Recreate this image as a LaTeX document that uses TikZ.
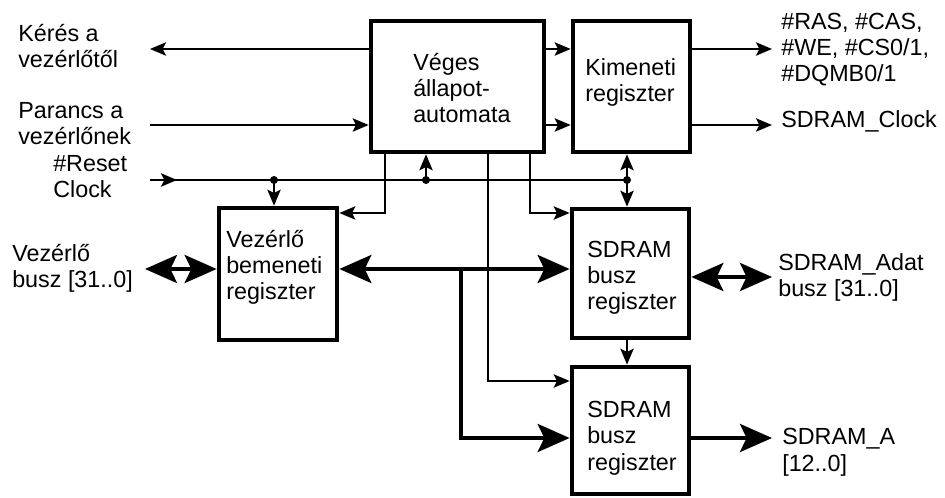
\documentclass[tikz,border=0pt]{standalone}
\usepackage{fontspec}
\setmainfont{Liberation Sans}
\usetikzlibrary{arrows.meta}

\begin{document}
\begin{tikzpicture}[x=0.75pt,y=-0.75pt,
  blk/.style={draw, line width=3.5pt, inner sep=0pt, rectangle},
  txt/.style={font=\fontsize{17.5}{19.8}\selectfont, inner sep=0pt, align=left, anchor=base west},
  wire/.style={line width=1.5pt},
  warrow/.style={wire, -{Stealth[length=12pt,width=10pt,inset=2.5pt]}},
  bus/.style={line width=3pt},
  barrow/.style={bus, -{Stealth[length=24pt,width=21pt,inset=5pt]}},
  dbarrow/.style={bus, {Stealth[length=24pt,width=21pt,inset=5pt]}-{Stealth[length=24pt,width=21pt,inset=5pt]}},
  dot/.style={circle, fill, inner sep=0pt, minimum size=6pt}]
\useasboundingbox (0,0) rectangle (945,498);

% functional blocks
\node[blk, minimum width=129.75pt, minimum height=98.25pt] (fsm) at (457.5,86.5) {};
\node[blk, minimum width=87.75pt, minimum height=98.25pt] (kim) at (631.5,86.5) {};
\node[blk, minimum width=88.5pt, minimum height=99pt] (vez) at (278,274) {};
\node[blk, minimum width=87.75pt, minimum height=96.75pt] (sd1) at (630.5,273.5) {};
\node[blk, minimum width=87.75pt, minimum height=95.25pt] (sd2) at (630.5,430.5) {};

% block captions (placed by the baseline of their last line)
\node[txt] (fsmtxt) at (413,123) {Véges\\állapot-\\automata};
\node[txt] (kimtxt) at (585,102) {Kimeneti\\regiszter};
\node[txt] (veztxt) at (226,300) {Vezérlő\\bemeneti\\regiszter};
\node[txt] (sd1txt) at (587,310) {SDRAM\\busz\\regiszter};
\node[txt] (sd2txt) at (587,470) {SDRAM\\busz\\regiszter};

% signal names
\node[txt] (req) at (18,68) {Kérés a\\vezérlőtől};
\node[txt] (cmd) at (18,145) {Parancs a\\vezérlőnek};
\node[txt] (rst) at (53,198) {\#Reset\\Clock};
\node[txt] (vbus) at (12,288) {Vezérlő\\busz [31..0]};
\node[txt] (ctl) at (781,82) {\#RAS, \#CAS,\\\#WE, \#CS0/1,\\\#DQMB0/1};
\node[txt] (clk) at (781,128) {SDRAM\_Clock};
\node[txt] (dat) at (778,297) {SDRAM\_Adat\\busz [31..0]};
\node[txt] (addr) at (782,471) {SDRAM\_A\\{[12..0]}};

% free wire ends and bends
\coordinate (reqend) at (150,49);
\coordinate (cmdstart) at (150,125);
\coordinate (ctlend) at (772,49);
\coordinate (clkend) at (772,125);
\coordinate (rststart) at (150,180);
\coordinate (rstmid) at (177,180);
\coordinate (t1) at (385,213);
\coordinate (t2) at (488,381);
\coordinate (t3) at (530,213);
\coordinate (vb) at (145,269);
\coordinate (br) at (461,438);
\coordinate (datend) at (772,277);
\coordinate (addrend) at (772,438);

% junctions on the reset/clock line
\node[dot] (j1) at (274,180) {};
\node[dot] (j2) at (426,180) {};
\node[dot] (j3) at (627,180) {};

% control signals
\draw[warrow] (reqend -| fsm.west) -- (reqend);
\draw[warrow] (cmdstart) -- (cmdstart -| fsm.west);
\draw[warrow] (fsm.east |- reqend) -- (kim.west |- reqend);
\draw[warrow] (fsm.east |- cmdstart) -- (kim.west |- cmdstart);
\draw[warrow] (kim.east |- ctlend) -- (ctlend);
\draw[warrow] (kim.east |- clkend) -- (clkend);

% reset and clock distribution
\draw[wire] (rststart) -- (j3.center);
\draw[warrow] (rststart) -- (rstmid);
\draw[warrow] (j1.center) -- (j1.center |- vez.north);
\draw[warrow] (j2.center) -- (j2.center |- fsm.south);
\draw[warrow] (j3.center) -- (j3.center |- kim.south);
\draw[warrow] (j3.center) -- (j3.center |- sd1.north);

% state machine outputs to the registers
\draw[warrow] (t1 |- fsm.south) -- (t1) -- (t1 -| vez.east);
\draw[warrow] (t2 |- fsm.south) -- (t2) -- (t2 -| sd2.west);
\draw[warrow] (t3 |- fsm.south) -- (t3) -- (t3 -| sd1.west);
\draw[warrow] (sd1.south -| j3) -- (sd2.north -| j3);

% data and address buses
\draw[dbarrow] (vb) -- (vb -| vez.west);
\draw[dbarrow] (vez.east |- vb) -- (sd1.west |- vb);
\draw[barrow] (br |- vb) -- (br) -- (br -| sd2.west);
\draw[dbarrow] (sd1.east |- datend) -- (datend);
\draw[barrow] (sd2.east |- addrend) -- (addrend);
\end{tikzpicture}
\end{document}
